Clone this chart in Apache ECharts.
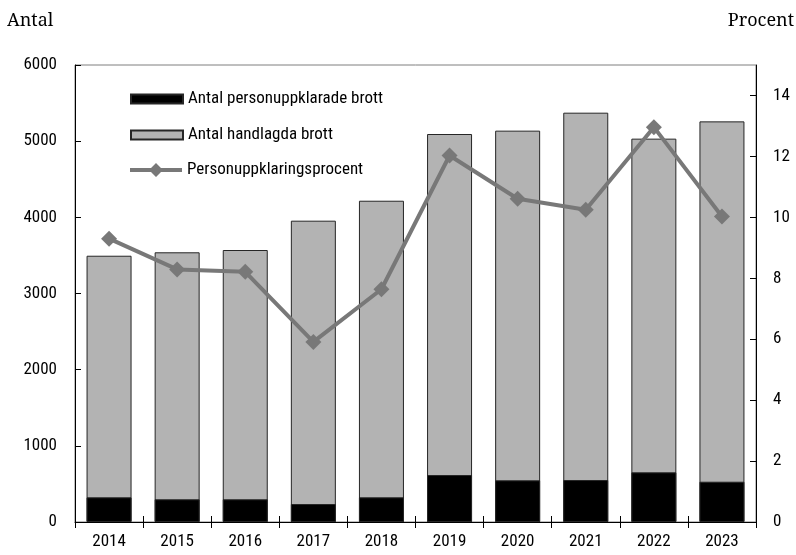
<!DOCTYPE html>
<html><head><meta charset="utf-8">
<script src="https://cdn.jsdelivr.net/npm/echarts@6/dist/echarts.min.js"></script>
<style>html,body{margin:0;padding:0;background:#fff}#c{width:796px;height:555px}</style>
</head><body><div id="c"></div>
<script>
const years = ['2014','2015','2016','2017','2018','2019','2020','2021','2022','2023'];
const handlagda = [3496, 3541, 3571, 3956, 4218, 5094, 5138, 5374, 5033, 5260];
const personuppklarade = [324, 298, 298, 236, 324, 617, 547, 551, 652, 529];
const procent = [9.30, 8.29, 8.21, 5.91, 7.64, 12.03, 10.61, 10.25, 12.96, 10.03];
const leftTicks = [0, 1000, 2000, 3000, 4000, 5000, 6000];
const rightTicks = [0, 2, 4, 6, 8, 10, 12, 14];
const names = ['Antal personuppklarade brott', 'Antal handlagda brott', 'Personuppklaringsprocent'];
const axisTitles = ['Antal', 'Procent'];

const FONT = "'Roboto Condensed','DejaVu Sans Condensed',sans-serif";
const SERIF = "'Noto Serif','DejaVu Serif',serif";
const chart = echarts.init(document.getElementById('c'), null, {renderer: 'canvas'});
chart.setOption({
  animation: false,
  backgroundColor: '#fff',
  grid: {left: 75, right: 40, top: 65, bottom: 33, show: true, borderColor: '#7f7f7f', borderWidth: 1},
  graphic: [
    {type: 'text', x: 7, y: 21, style: {text: axisTitles[0], font: "18px " + SERIF, fill: '#000', verticalAlign: 'middle', align: 'left'}},
    {type: 'text', x: 794, y: 21, style: {text: axisTitles[1], font: "18px " + SERIF, fill: '#000', verticalAlign: 'middle', align: 'right'}}
  ],
  legend: [
    {data: [names[0], names[1]], orient: 'vertical', left: 130, top: 90.5, padding: 0,
     itemWidth: 52, itemHeight: 9, itemGap: 19, icon: 'rect', selectedMode: false,
     textStyle: {fontFamily: FONT, fontSize: 17, lineHeight: 16, color: '#000'}},
    {data: [{name: names[2], icon: 'path://M0,5H21L26,0L31,5H52V9H31L26,14L21,9H0Z'}],
     orient: 'vertical', left: 130, top: 161.5, padding: 0,
     itemWidth: 52, itemHeight: 14, selectedMode: false,
     textStyle: {fontFamily: FONT, fontSize: 17, lineHeight: 16, color: '#000'}}
  ],
  xAxis: [
    {type: 'category', data: years, boundaryGap: true,
     axisLine: {lineStyle: {color: '#000', width: 1}},
     axisTick: {show: true, inside: false, length: 6, lineStyle: {color: '#000'}},
     axisLabel: {fontFamily: FONT, fontSize: 17, color: '#000', margin: 11}},
    {type: 'category', data: years, position: 'bottom', boundaryGap: true,
     axisLine: {show: false},
     axisTick: {show: true, inside: true, length: 6, lineStyle: {color: '#000'}},
     axisLabel: {show: false}}
  ],
  yAxis: [
    {type: 'value', min: 0, max: 6000, interval: 1000, position: 'left',
     axisLine: {show: true, lineStyle: {color: '#000'}},
     axisTick: {show: true, inside: true, length: 6, lineStyle: {color: '#000'}},
     splitLine: {show: false},
     axisLabel: {fontFamily: FONT, fontSize: 17, color: '#000', margin: 18,
       formatter: v => leftTicks.includes(v) ? String(v) : ''}},
    {type: 'value', min: 0, max: 15, interval: 2, position: 'right',
     axisLine: {show: true, lineStyle: {color: '#000'}},
     axisTick: {show: true, inside: true, length: 6, lineStyle: {color: '#000'}},
     splitLine: {show: false},
     axisLabel: {fontFamily: FONT, fontSize: 17, color: '#000', margin: 17, showMaxLabel: false,
       formatter: v => rightTicks.includes(v) ? String(v) : ''}}
  ],
  series: [
    {name: names[1], type: 'bar', data: handlagda, barWidth: 45, barGap: '-100%', yAxisIndex: 0,
     itemStyle: {color: '#b3b3b3', borderColor: '#262626', borderWidth: 1}},
    {name: names[0], type: 'bar', data: personuppklarade, barWidth: 45, yAxisIndex: 0,
     itemStyle: {color: '#000', borderColor: '#262626', borderWidth: 1}},
    {name: names[2], type: 'line', data: procent, yAxisIndex: 1,
     lineStyle: {color: '#787878', width: 4}, itemStyle: {color: '#787878'},
     symbol: 'diamond', symbolSize: 16, z: 5}
  ]
});
</script></body></html>
